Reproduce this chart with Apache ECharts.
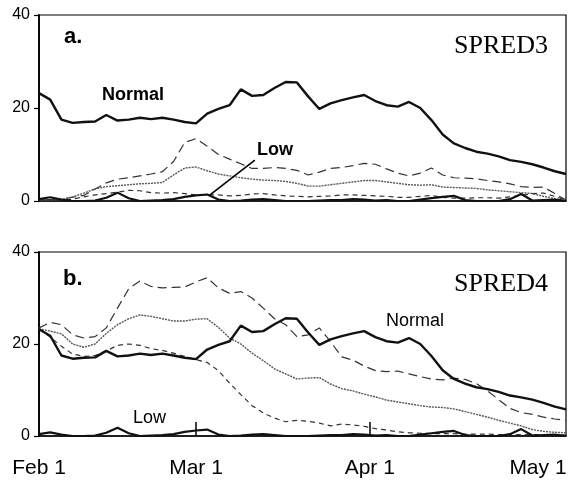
<!DOCTYPE html>
<html>
<head>
<meta charset="utf-8">
<script src="https://cdn.jsdelivr.net/npm/echarts@6/dist/echarts.min.js"></script>
<style>
  html, body { margin: 0; padding: 0; background: #fff; }
  #chart { width: 576px; height: 482px; }
</style>
</head>
<body>
<div id="chart"></div>
<script>
// Days since Feb 1 (every 2 days)
const days = [0,2,4,6,8,10,12,14,16,18,20,22,24,26,28,30,32,34,36,38,40,42,44,46,48,50,52,54,56,58,60,62,64,66,68,70,72,74,76,78,80,82,84,86,88,90,92,94];

// Date tick labels (day since Feb 1 and label)
const tickDays = [0, 28, 59, 89];
const tickLabels = ["Feb 1", "Mar 1", "Apr 1", "May 1"];
const markDays = [28, 59];

// Normal (same in both panels)
const normal = [23.2,21.8,17.5,16.8,17.0,17.1,18.5,17.3,17.5,17.9,17.6,17.9,17.5,17.0,16.7,18.8,19.8,20.6,24.0,22.6,22.8,24.3,25.6,25.5,22.5,19.8,21.0,21.7,22.3,22.8,21.5,20.6,20.3,21.3,20.0,17.4,14.3,12.4,11.4,10.6,10.2,9.6,8.8,8.4,7.9,7.2,6.4,5.8];

// Low (same in both panels)
const low = [0.4,0.8,0.3,0,0,0.1,0.7,1.8,0.6,0,0.1,0.2,0.4,0.9,1.2,1.4,0.3,0,0.1,0.3,0.4,0.2,0,0,0,0.1,0.2,0.2,0.4,0.3,0.1,0.2,0,0,0.3,0.6,0.9,1.1,0.2,0,0,0,0.4,1.5,0.1,0.2,0.3,0];

// SPRED3 intermediate series
const spred3Long = [0.2,0.3,0.4,0.8,1.2,2.6,3.9,4.7,5.0,5.4,5.8,6.3,8.5,12.6,13.4,11.8,10.0,9.0,8.0,7.0,7.0,7.2,7.0,6.6,5.6,6.2,7.0,7.2,7.6,8.1,7.9,6.9,6.0,5.4,6.0,7.1,5.6,5.0,4.9,4.8,4.4,4.1,3.7,3.1,2.9,3.0,1.6,0.2];
const spred3Dot = [0.2,0.2,0.3,0.9,1.7,2.6,3.1,3.3,3.5,3.7,3.8,4.0,5.6,7.1,7.3,6.5,5.8,5.4,5.0,4.7,4.5,4.4,4.2,3.8,3.2,3.2,3.5,3.8,4.1,4.4,4.4,4.1,3.8,3.5,3.4,3.5,3.0,2.9,2.8,2.7,2.4,2.2,2.0,1.8,1.6,1.0,0.5,0.1];
const spred3Short = [0.2,0.3,0.2,0.4,0.9,1.3,1.6,1.9,2.3,2.2,1.8,1.7,1.8,1.6,1.3,1.3,1.3,1.1,1.2,1.5,1.6,1.3,1.1,1.0,0.9,1.0,1.1,1.3,1.3,1.2,1.1,1.0,0.8,0.8,1.0,1.2,0.8,0.6,0.6,0.7,0.7,0.6,0.9,1.2,1.6,1.7,1.0,0.2];

// SPRED4 intermediate series
const spred4Long = [23.5,24.7,24.2,22.0,21.3,21.6,23.5,27.8,32.0,33.7,32.5,32.2,32.3,32.4,33.5,34.4,32.2,31.0,31.4,30.0,27.8,25.5,24.2,21.6,22.0,23.5,20.5,17.2,16.5,15.2,14.2,14.0,14.1,13.5,12.9,12.4,12.2,12.6,12.3,11.4,9.8,7.9,6.0,5.1,4.7,4.1,3.7,3.4];
const spred4Dot = [23.3,22.8,22.2,20.0,19.3,20.0,22.3,24.2,25.5,26.3,26.0,25.5,25.0,25.0,25.4,25.5,23.6,21.3,20.0,18.0,16.4,14.6,13.5,12.4,12.6,12.7,11.3,10.3,9.8,9.1,8.5,7.8,7.4,7.0,6.6,6.3,6.2,5.9,5.3,4.7,4.1,3.4,2.8,2.2,1.4,1.0,0.8,0.7];
const spred4Short = [23.3,21.5,19.5,17.8,17.3,17.5,18.5,19.7,20.0,19.7,19.0,18.6,18.0,17.3,16.6,16.0,14.2,11.5,9.0,6.6,5.0,3.9,3.1,3.4,3.2,2.8,2.2,2.6,2.4,2.1,1.6,1.3,0.9,0.7,0.6,0.5,0.5,0.5,0.4,0.4,0.4,0.3,0.3,0.3,0.3,0.3,0.3,0.2];

const pair = arr => days.map((d, i) => [d, arr[i]]);

const FONT = 'Liberation Sans';
const grids = [
  { left: 39, top: 15, width: 527, height: 186 },
  { left: 39, top: 252, width: 527, height: 184 }
];
grids.forEach(g => { g.show = true; g.borderColor = '#000'; g.borderWidth = 1.2; g.backgroundColor = 'transparent'; });

function xAx(idx, showLabels) {
  return {
    type: 'value', gridIndex: idx, min: 0, max: 94,
    splitLine: { show: false },
    axisLine: { show: true, lineStyle: { color: '#000', width: 1.5 } },
    axisTick: showLabels ? { show: true, inside: true, length: 14, customValues: markDays, lineStyle: { color: '#000', width: 1.5 } } : { show: false },
    axisLabel: showLabels ? {
      show: true, customValues: tickDays, margin: 22,
      fontFamily: FONT, fontSize: 21, color: '#000',
      formatter: v => { const k = tickDays.indexOf(v); return k >= 0 ? tickLabels[k] : ''; }
    } : { show: false }
  };
}
function yAx(idx) {
  return {
    type: 'value', gridIndex: idx, min: 0, max: 40, interval: 20,
    splitLine: { show: false },
    axisLine: { show: true, lineStyle: { color: '#000', width: 1.8 } },
    axisTick: { show: true, length: 5, lineStyle: { color: '#000', width: 1.2 } },
    axisLabel: { fontFamily: FONT, fontSize: 16, color: '#000', margin: 9 }
  };
}

function line(idx, arr, style, extra) {
  return Object.assign({
    type: 'line', xAxisIndex: idx, yAxisIndex: idx, data: pair(arr),
    showSymbol: false, symbol: 'none', smooth: false, silent: true,
    lineStyle: style, z: 3
  }, extra || {});
}
const sNormal = { color: '#111', width: 2.4 };
const sLow = { color: '#111', width: 2.2 };
const sLong = { color: '#333', width: 1.2, type: [9, 5] };
const sDot = { color: '#555', width: 1.4, type: [2, 1] };
const sShort = { color: '#333', width: 1.2, type: [5, 4] };

const series = [
  line(0, spred3Long, sLong),
  line(0, spred3Dot, sDot),
  line(0, spred3Short, sShort),
  line(0, normal, sNormal),
  line(0, low, sLow, {
    markLine: {
      silent: true, symbol: ['none', 'none'], label: { show: false },
      lineStyle: { color: '#000', width: 1.6, type: 'solid' },
      data: [[{ coord: [38.5, 8.8] }, { coord: [30.5, 1.3] }]]
    }
  }),
  line(1, spred4Long, sLong),
  line(1, spred4Dot, sDot),
  line(1, spred4Short, sShort),
  line(1, normal, sNormal),
  line(1, low, sLow)
];

function txt(text, x, y, font, align) {
  return { type: 'text', x: x, y: y, z: 10, style: { text: text, font: font, fill: '#000', align: align || 'left', verticalAlign: 'middle' } };
}

const option = {
  animation: false,
  backgroundColor: '#fff',
  grid: grids,
  xAxis: [xAx(0, false), xAx(1, true)],
  yAxis: [yAx(0), yAx(1)],
  series: series,
  graphic: [
    txt('a.', 64, 37, 'bold 22px "Liberation Sans"'),
    txt('b.', 63, 279, 'bold 22px "Liberation Sans"'),
    txt('SPRED3', 548, 46, '26px "Liberation Serif"', 'right'),
    txt('SPRED4', 548, 284, '26px "Liberation Serif"', 'right'),
    txt('Normal', 102, 95, 'bold 18px "Liberation Sans"'),
    txt('Low', 257, 150, 'bold 18px "Liberation Sans"'),
    txt('Normal', 386, 321, '18px "Liberation Sans"'),
    txt('Low', 133, 418, '18px "Liberation Sans"')
  ]
};

const chart = echarts.init(document.getElementById('chart'), null, { renderer: 'canvas' });
chart.setOption(option);
</script>
</body>
</html>
